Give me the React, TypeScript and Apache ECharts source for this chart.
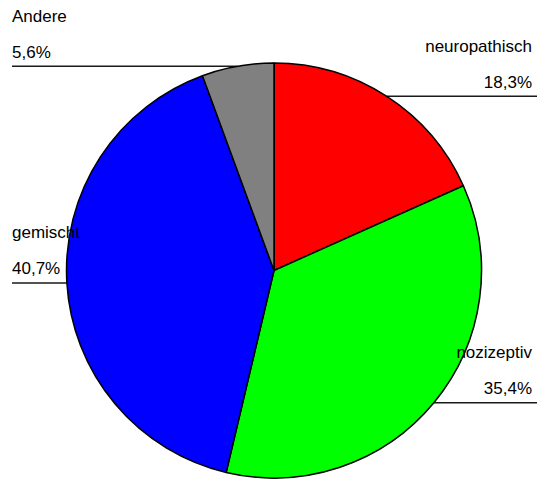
import React, { useEffect, useRef } from "react";
import * as echarts from "echarts";

// Schmerzart – Anteile in Prozent
const categories = ["neuropathisch", "nozizeptiv", "gemischt", "Andere"];
const shares = [18.3, 35.4, 40.7, 5.6];
const sliceColors = ["#ff0000", "#00ff00", "#0000ff", "#808080"];

const WIDTH = 537;
const HEIGHT = 480;
const CENTER: [number, number] = [274, 270.5];
const RADIUS = 207.5;

const fmtPercent = (v: number) => v.toFixed(1).replace(".", ",") + "%";

export default function App() {
  const ref = useRef<HTMLDivElement>(null);

  useEffect(() => {
    if (!ref.current) return;
    const chart = echarts.init(ref.current, undefined, { renderer: "svg" });

    chart.setOption({
      animation: false,
      backgroundColor: "#ffffff",
      series: [
        {
          type: "pie",
          center: CENTER,
          radius: RADIUS,
          startAngle: 90,
          clockwise: true,
          avoidLabelOverlap: false,
          data: categories.map((name, i) => ({
            name,
            value: shares[i],
            itemStyle: { color: sliceColors[i] },
          })),
          itemStyle: { borderColor: "#000000", borderWidth: 1.5 },
          emphasis: { disabled: true },
          label: {
            show: true,
            position: "outside",
            formatter: (p: any) => `${p.name}\n${fmtPercent(p.value)}`,
            fontFamily: "'Liberation Sans', Arial, sans-serif",
            fontSize: 17,
            lineHeight: 36,
            color: "#000000",
          },
          labelLine: {
            show: true,
            length: 5,
            length2: 5,
            smooth: false,
            lineStyle: { color: "#1a1a1a", width: 1.5 },
          },
          // Text sits above a horizontal rule that runs from the slice's
          // outer mid-point to the side of the chart.
          labelLayout: (params: any) => {
            const pts = params.labelLinePoints;
            if (!pts || !pts.length) return {};
            const [ex, ey] = pts[0];
            const left = ex < CENTER[0];
            const lineEnd = left ? 12 : WIDTH;
            return {
              x: left ? 12 : 532,
              y: ey + 4,
              align: left ? "left" : "right",
              verticalAlign: "bottom",
              labelLinePoints: [
                [ex, ey],
                [lineEnd, ey],
                [lineEnd, ey],
              ],
            };
          },
        },
      ],
    });

    return () => chart.dispose();
  }, []);

  return (
    <div
      ref={ref}
      style={{
        position: "fixed",
        left: 0,
        top: 0,
        width: WIDTH,
        height: HEIGHT,
      }}
    />
  );
}
